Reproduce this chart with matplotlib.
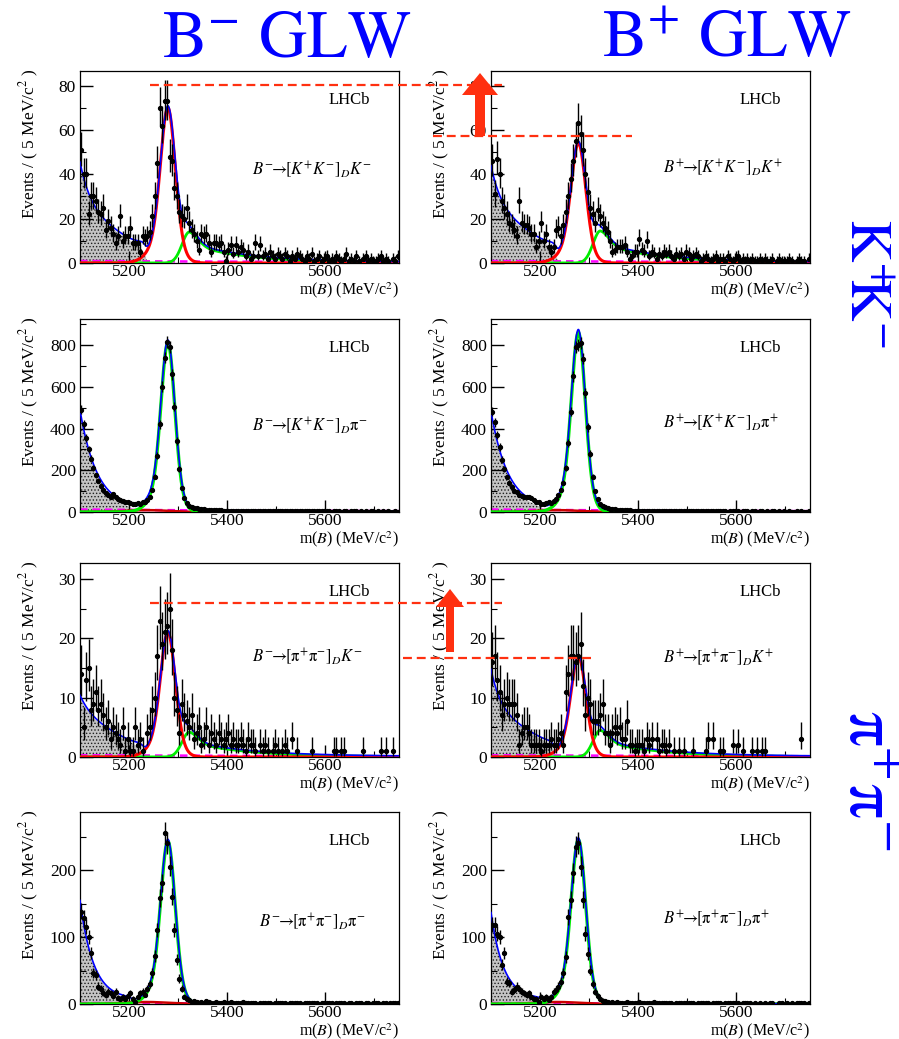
import numpy as np
import matplotlib
matplotlib.use('Agg')
import matplotlib.pyplot as plt
from matplotlib.ticker import MultipleLocator, AutoMinorLocator
from matplotlib.patches import FancyArrow
from matplotlib.lines import Line2D

plt.rcParams['font.family'] = ['Liberation Serif', 'DejaVu Serif']
plt.rcParams['mathtext.fontset'] = 'stix'
plt.rcParams['hatch.linewidth'] = 0.6
plt.rcParams['hatch.color'] = '#303030'

# ---------------- data: events per 5 MeV bin, 5100-5750 MeV ----------------
m_lo, m_hi, bin_w = 5100, 5750, 5

bm_kk_k = [51,40,40,22,30,30,28,23,22,25,
           15,19,16,13,9,12,21,10,12,12,
           16,9,9,9,5,12,11,12,14,21,
           30,45,70,62,73,73,48,46,34,30,
           23,21,20,25,18,15,13,10,6,13,
           12,13,9,5,9,9,8,9,5,1,
           6,8,4,8,5,7,6,3,5,2,
           3,9,3,8,3,4,2,5,3,2,
           4,3,2,4,3,1,3,2,4,3,
           2,1,3,2,4,1,2,3,1,2,
           3,1,2,1,3,2,1,2,4,1,
           2,1,3,1,0,2,3,1,2,1,
           1,2,3,1,2,1,0,2,1,3]
bp_kk_k = [46,31,47,40,28,25,22,18,17,15,
           12,28,18,17,17,16,13,13,7,10,
           18,10,13,7,5,7,15,16,12,17,
           23,30,38,46,55,63,58,51,40,32,
           25,22,18,24,21,18,16,14,10,5,
           6,7,7,7,8,5,2,3,5,5,
           11,6,5,10,3,5,4,2,4,3,
           5,4,5,3,2,4,3,4,2,5,
           4,2,3,4,3,1,2,3,2,1,
           2,3,1,2,2,1,3,2,1,2,
           3,1,2,1,2,1,2,1,1,2,
           1,2,1,1,2,0,1,2,1,1,
           1,2,1,0,1,2,1,1,0,2]
bm_kk_pi = [490,420,355,300,255,210,175,150,125,105,
            92,80,72,85,70,62,57,54,50,46,
            43,40,38,42,40,46,50,58,72,105,
            170,270,420,600,740,815,790,660,505,340,
            205,115,65,42,30,24,20,17,15,13,
            12,11,10,10,9,9,8,8,7,7,
            7,6,6,6,5,6,5,5,6,4,
            5,5,4,5,4,4,5,4,4,4,
            4,3,4,4,3,4,3,4,3,3,
            4,3,3,4,3,3,3,3,4,3,
            3,3,2,3,3,3,2,3,3,2,
            3,3,3,2,3,2,3,2,3,3,
            2,3,2,3,2,3,2,2,3,2]
bp_kk_pi = [480,430,370,310,250,205,170,140,120,100,
            95,80,75,70,72,70,65,58,50,48,
            40,38,45,50,42,52,60,80,105,140,
            210,330,480,650,790,800,810,735,570,405,
            280,170,100,60,38,27,22,18,15,13,
            12,11,10,10,9,8,8,7,7,7,
            6,6,7,5,6,5,5,6,5,4,
            5,4,5,4,4,5,4,4,3,4,
            4,3,4,3,3,4,3,3,4,3,
            3,3,4,3,3,3,2,3,3,3,
            3,2,3,3,3,2,3,3,2,3,
            3,2,3,2,3,3,2,3,2,3,
            2,3,2,2,3,2,3,2,2,3]
bm_pp_k = [14,5,13,15,8,9,11,8,9,7,
           5,6,3,5,4,3,2,5,1,3,
           1,1,5,2,3,1,0,4,5,8,
           10,17,23,19,21,22,25,18,10,8,
           4,9,7,6,5,7,3,4,5,2,
           3,5,2,4,3,2,4,3,2,3,
           4,2,3,2,2,3,2,1,3,2,
           2,1,0,2,1,2,1,0,1,2,
           1,0,1,2,1,0,3,0,1,0,
           0,0,0,0,1,0,0,0,0,0,
           0,0,0,1,1,0,1,1,0,0,
           0,0,0,0,0,1,0,0,0,0,
           0,0,1,0,1,0,0,1,0,0]
bp_pp_k = [16,17,13,11,7,9,10,9,9,9,
           7,2,4,5,5,4,2,2,2,2,
           1,2,2,2,3,2,2,3,4,2,
           11,14,17,17,16,17,19,12,7,10,
           9,6,6,6,7,9,4,4,2,4,
           5,4,5,3,3,6,2,2,1,2,
           2,2,1,3,2,3,0,3,1,2,
           2,1,2,0,1,0,1,0,1,0,
           0,0,1,0,0,0,0,1,3,0,
           3,0,0,1,1,0,0,0,2,0,
           2,0,1,0,0,0,1,0,1,0,
           1,1,0,0,0,0,0,0,0,0,
           0,0,0,0,0,0,3,0,0,0]
bm_pp_pi = [138,128,115,100,76,46,43,26,23,16,
            13,18,16,12,18,9,8,10,8,12,
            16,8,3,11,16,18,14,22,30,46,
            71,110,158,180,255,240,205,160,110,66,
            38,23,11,8,6,3,4,3,2,3,
            2,4,3,2,1,3,2,2,3,1,
            2,3,2,1,2,2,3,1,2,2,
            1,2,0,2,1,2,1,2,0,1,
            1,2,1,1,0,2,1,1,2,1,
            0,1,2,1,1,2,1,0,2,1,
            1,2,1,0,1,1,2,1,0,1,
            1,0,1,2,1,0,1,1,0,1,
            2,1,0,1,1,0,1,2,1,1]
bp_pp_pi = [118,118,105,100,58,76,33,31,18,21,
            26,23,18,16,13,16,11,8,8,3,
            11,8,11,6,11,18,21,26,33,46,
            70,130,155,195,235,240,205,155,105,75,
            50,30,18,12,7,5,4,3,2,3,
            2,3,2,1,2,3,2,1,2,2,
            3,1,2,2,1,2,3,2,1,2,
            2,1,2,1,0,2,1,2,1,1,
            2,1,1,0,2,1,1,2,1,0,
            1,2,1,1,0,2,1,1,2,1,
            1,0,1,2,1,1,0,1,0,1,
            0,1,0,1,1,0,0,1,1,0,
            1,0,1,0,1,2,1,1,0,1]

panel_data = [bm_kk_k, bp_kk_k, bm_kk_pi, bp_kk_pi,
              bm_pp_k, bp_pp_k, bm_pp_pi, bp_pp_pi]
panel_labels = [r'$B^{-}\!\!\rightarrow\!\![K^{+}K^{-}]_{D}K^{-}$',
                r'$B^{+}\!\!\rightarrow\!\![K^{+}K^{-}]_{D}K^{+}$',
                r'$B^{-}\!\!\rightarrow\!\![K^{+}K^{-}]_{D}\mathrm{\pi}^{-}$',
                r'$B^{+}\!\!\rightarrow\!\![K^{+}K^{-}]_{D}\mathrm{\pi}^{+}$',
                r'$B^{-}\!\!\rightarrow\!\![\mathrm{\pi}^{+}\mathrm{\pi}^{-}]_{D}K^{-}$',
                r'$B^{+}\!\!\rightarrow\!\![\mathrm{\pi}^{+}\mathrm{\pi}^{-}]_{D}K^{+}$',
                r'$B^{-}\!\!\rightarrow\!\![\mathrm{\pi}^{+}\mathrm{\pi}^{-}]_{D}\mathrm{\pi}^{-}$',
                r'$B^{+}\!\!\rightarrow\!\![\mathrm{\pi}^{+}\mathrm{\pi}^{-}]_{D}\mathrm{\pi}^{+}$']

# ---------------- fit-model parameters ----------------
sig_amp   = [70, 54, 810, 860, 21, 17, 243, 245]
sig_mean  = [5279, 5278, 5279, 5278, 5279, 5278, 5279, 5278]
sig_width = [14.5, 14.5, 13.5, 13.5, 14.5, 14.5, 14.0, 14.0]
mis_amp   = [14.0, 14.5, 9.0, 9.0, 4.2, 4.5, 3.0, 3.0]
pr_A1     = [21.6, 20.0, 476, 470, 3.6, 7.0, 145, 125]
pr_t1     = [22.5, 22.0, 35, 35, 25, 20, 27, 25]
pr_B0     = [23.0, 23.0, 0, 0, 6.5, 7.5, 8, 10]
pr_B1     = [0.13, 0.13, 0, 0, 0.04, 0.045, 0.04, 0.06]
pr_edge   = [5233, 5233, 5208, 5208, 5228, 5228, 5205, 5205]
pr_edge_w = [3, 3, 3, 3, 3, 3, 4, 4]
comb_c0   = [0.9, 0.9, 12, 12, 0.3, 0.3, 1.5, 1.5]
comb_tau  = [800, 800, 600, 600, 800, 800, 500, 500]

row_ymax  = [86.6, 925, 32.7, 286.6]
row_major = [20, 200, 10, 100]

edges = np.arange(m_lo, m_hi + bin_w, bin_w)
centers = edges[:-1] + bin_w / 2.0
mm = np.linspace(m_lo, m_hi, 1301)


def signal_shape(m, A, mu, s):
    d = m - mu
    sw = np.where(d < 0, 2.0 * s, 1.5 * s)
    return A * (0.8 * np.exp(-0.5 * (d / s) ** 2) + 0.2 * np.exp(-0.5 * (d / sw) ** 2))


def misid_k_shape(m, A, mu=5323.0):
    d = m - mu
    left = np.exp(-0.5 * (d / 15.0) ** 2)
    right = 0.4 * np.exp(-0.5 * (d / 18.0) ** 2) + 0.6 * np.exp(-np.clip(d, 0, None) / 120.0)
    return A * np.where(d < 0, left, right)


def misid_pi_shape(m, A, mu=5235.0, s=45.0):
    return A * np.exp(-0.5 * ((m - mu) / s) ** 2)


def partreco_shape(m, A1, t1, B0, B1, E, w):
    d = m - m_lo
    core = A1 * np.exp(-d / t1) + np.clip(B0 - B1 * d, 0, None)
    return core / (1.0 + np.exp((m - E) / w))


def comb_shape(m, c0, ct):
    return c0 * np.exp(-(m - m_lo) / ct)


def poisson_err(n):
    n = np.asarray(n, float)
    up = np.sqrt(n + 0.75) + 1.0
    lo = n - n * (1 - 1 / (9 * n) - 1 / (3 * np.sqrt(n))) ** 3
    return lo, up


W, H = 899, 1039
fig = plt.figure(figsize=(W / 100, H / 100), dpi=100)
col_x = [80, 491]
ax_w = 319
row_top = [71, 319, 563, 812]
row_bot = [263, 512, 757, 1004]
lab_base = [[0.458, 0.47], [0.42, 0.435], [0.49, 0.485], [0.40, 0.42]]

for p in range(8):
    row, col = divmod(p, 2)
    top, bot = row_top[row], row_bot[row]
    hgt = bot - top
    ax = fig.add_axes([col_x[col] / W, 1 - bot / H, ax_w / W, hgt / H])
    ax.set_xlim(m_lo, m_hi)
    ax.set_ylim(0, row_ymax[row])

    sig = signal_shape(mm, sig_amp[p], sig_mean[p], sig_width[p])
    pr = partreco_shape(mm, pr_A1[p], pr_t1[p], pr_B0[p], pr_B1[p], pr_edge[p], pr_edge_w[p])
    cb = comb_shape(mm, comb_c0[p], comb_tau[p])
    k_bach = row in (0, 2)
    if k_bach:
        mis = misid_k_shape(mm, mis_amp[p])
    else:
        mis = misid_pi_shape(mm, mis_amp[p])
    total = sig + mis + pr + cb

    ax.fill_between(mm, 0, pr, facecolor='#c4c4c4', edgecolor='#202020',
                    hatch='.....', linewidth=0, zorder=1)
    ax.plot(mm, cb, color='#ff00ff', lw=1.8, ls=(0, (3, 2)), zorder=2)
    if k_bach:
        ax.plot(mm, mis, color='#00ee00', lw=2.0, zorder=3)
        ax.plot(mm, sig, color='#ff0000', lw=2.2, zorder=3)
    else:
        ax.plot(mm, mis, color='#cc0000', lw=1.8, zorder=3)
        ax.plot(mm, sig, color='#00ee00', lw=2.4, zorder=3)
    ax.plot(mm, total, color='#0000ff', lw=1.2, zorder=4)

    counts = np.asarray(panel_data[p], float)
    mask = counts > 0
    lo, up = poisson_err(counts[mask])
    ax.errorbar(centers[mask], counts[mask], yerr=[lo, up], xerr=bin_w / 2,
                fmt='o', ms=2.8, color='black', ecolor='black', elinewidth=1.0,
                capsize=0, zorder=5)

    ax.xaxis.set_major_locator(MultipleLocator(200))
    ax.xaxis.set_minor_locator(MultipleLocator(100))
    ax.yaxis.set_major_locator(MultipleLocator(row_major[row]))
    ax.yaxis.set_minor_locator(AutoMinorLocator(2))
    ax.tick_params(which='both', direction='in', labelsize=12.5)
    ax.tick_params(which='major', length=9, width=1)
    ax.tick_params(which='minor', length=4.5, width=0.8)
    ax.tick_params(axis='y', pad=3)
    ax.tick_params(axis='x', pad=1.0)
    for s in ax.spines.values():
        s.set_linewidth(0.9)

    ax.text(0.78, 0.83, 'LHCb', transform=ax.transAxes, fontsize=12,
            ha='left', va='baseline')
    ax.text(0.56 if p == 6 else 0.54, lab_base[row][col], panel_labels[p],
            transform=ax.transAxes, fontsize=12, ha='left', va='baseline')
    ax.text(1.0, -17.0 / hgt, r'm($B$) (MeV/c$^{2}$)', transform=ax.transAxes,
            fontsize=11.5, ha='right', va='top')
    ylx = (29.5 if col == 0 else 440) - col_x[col]
    ax.text(ylx / ax_w, (hgt - 72.5) / hgt,
            r'Events / ( 5 MeV/c$^{2}$ )', transform=ax.transAxes,
            fontsize=12.5, rotation=90, ha='center', va='center')

# ---------------- overlay: titles, side labels, red markers ----------------
ov = fig.add_axes([0, 0, 1, 1], zorder=20)
ov.set_xlim(0, W)
ov.set_ylim(H, 0)
ov.axis('off')
ov.patch.set_visible(False)

blue = '#0000ff'
ov.text(287, 57, r'$\mathrm{B^{-}\ GLW}$', color=blue, fontsize=48, ha='center', va='baseline')
ov.text(727, 57, r'$\mathrm{B^{+}\ GLW}$', color=blue, fontsize=48, ha='center', va='baseline')
ov.text(864, 283, r'$\mathrm{K^{+}\!\!K^{-}}$', color=blue, fontsize=42, rotation=-90,
        ha='center', va='center')
ov.text(866, 780, r'$\mathrm{\pi^{+}\pi^{-}}$', color=blue, fontsize=50, rotation=-90,
        ha='center', va='center')

red = '#ff3010'
for (x1, x2, y) in [(150, 502, 85), (433, 632, 136), (150, 502, 603), (403, 593, 658)]:
    ov.add_line(Line2D([x1, x2], [y, y], color=red, lw=1.6, ls=(0, (4, 2.2))))
ov.add_patch(FancyArrow(480, 136, 0, -63, width=10, head_width=36, head_length=22,
                        length_includes_head=True, color=red, lw=0))
ov.add_patch(FancyArrow(450, 652, 0, -63, width=8, head_width=28, head_length=18,
                        length_includes_head=True, color=red, lw=0))

fig.savefig('out.png', dpi=100)
